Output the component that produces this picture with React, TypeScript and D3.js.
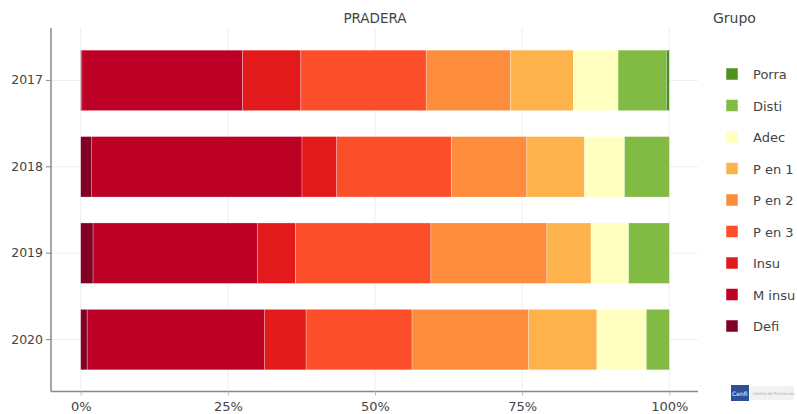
import React, { useEffect, useRef } from 'react';
import * as d3 from 'd3';

const years = ['2017', '2018', '2019', '2020'];
const groups = ['Defi', 'M insu', 'Insu', 'P en 3', 'P en 2', 'P en 1', 'Adec', 'Disti', 'Porra'];
const groupColors = ['#800026', '#bd0026', '#e31a1c', '#fc4e2a', '#fd8d3c', '#feb24c', '#ffffc0', '#81bb44', '#4d9221'];

// percentages per year, in the same order as groups
const values2017 = [0.2, 27.3, 9.9, 21.3, 14.3, 10.7, 7.6, 8.2, 0.5];
const values2018 = [1.8, 35.8, 5.9, 19.5, 12.8, 9.8, 6.8, 7.6, 0];
const values2019 = [2.1, 27.9, 6.5, 23.0, 19.7, 7.5, 6.4, 6.9, 0];
const values2020 = [1.1, 30.1, 7.1, 18.0, 19.8, 11.6, 8.4, 3.9, 0];

const xTicks = [0, 0.25, 0.5, 0.75, 1];
const legendOrder = ['Porra', 'Disti', 'Adec', 'P en 1', 'P en 2', 'P en 3', 'Insu', 'M insu', 'Defi'];

const App = () => {
  const ref = useRef<SVGSVGElement>(null);

  useEffect(() => {
    if (!ref.current) return;
    const svg = d3.select(ref.current);
    svg.selectAll('*').remove();

    const font = '"DejaVu Sans", Verdana, sans-serif';
    const rows = [values2017, values2018, values2019, values2020].map((vals, i) => {
      const row: any = { year: years[i] };
      groups.forEach((g, j) => { row[g] = vals[j] / 100; });
      return row;
    });

    const x = d3.scaleLinear().domain([0, 1]).range([80.7, 669.3]);
    const y = d3.scaleBand().domain(years).range([37.2, 382.8]).paddingInner(0.3).paddingOuter(0.15);
    const color = d3.scaleOrdinal<string, string>().domain(groups).range(groupColors);

    const left = 51, right = 698, top = 28, bottom = 391.5;

    // grid
    svg.append('g').selectAll('line').data(xTicks).enter().append('line')
      .attr('x1', d => x(d)).attr('x2', d => x(d))
      .attr('y1', top).attr('y2', bottom)
      .attr('stroke', '#eee').attr('stroke-width', 1);
    svg.append('g').selectAll('line').data(years).enter().append('line')
      .attr('x1', left).attr('x2', right)
      .attr('y1', d => y(d)! + y.bandwidth() / 2).attr('y2', d => y(d)! + y.bandwidth() / 2)
      .attr('stroke', '#eee').attr('stroke-width', 1);

    // stacked bars
    const series = d3.stack<any>().keys(groups)(rows);
    svg.append('g').selectAll('g').data(series).enter().append('g')
      .attr('fill', d => color(d.key))
      .selectAll('rect').data(d => d).enter().append('rect')
      .attr('x', d => x(d[0]))
      .attr('width', d => Math.max(0, x(d[1]) - x(d[0])))
      .attr('y', d => y(d.data.year)!)
      .attr('height', y.bandwidth())
      .attr('stroke', 'rgba(255,255,255,0.45)')
      .attr('stroke-width', 0.6);

    // axes
    svg.append('line').attr('x1', left).attr('x2', left).attr('y1', top).attr('y2', bottom)
      .attr('stroke', '#888').attr('stroke-width', 1.5);
    svg.append('line').attr('x1', left).attr('x2', right).attr('y1', bottom).attr('y2', bottom)
      .attr('stroke', '#888').attr('stroke-width', 1.5);

    const yAxis = svg.append('g').attr('transform', `translate(${left},0)`)
      .call(d3.axisLeft(y).tickSize(5).tickPadding(3));
    yAxis.select('.domain').remove();
    yAxis.selectAll('line').attr('stroke', '#888');
    yAxis.selectAll('text').attr('fill', '#444').style('font-size', '12.5px').style('font-family', font);

    const xAxis = svg.append('g').attr('transform', `translate(0,${bottom})`)
      .call(d3.axisBottom(x).tickValues(xTicks).tickFormat(d3.format('.0%')).tickSize(4).tickPadding(6));
    xAxis.select('.domain').remove();
    xAxis.selectAll('line').attr('stroke', '#bbb');
    xAxis.selectAll('text').attr('fill', '#444').style('font-size', '13px').style('font-family', font);

    // title
    svg.append('text').attr('x', x(0.5)).attr('y', 23).attr('text-anchor', 'middle')
      .attr('fill', '#444').style('font-size', '13.5px').style('font-family', font)
      .text('PRADERA');

    // legend
    const legend = svg.append('g');
    legend.append('text').attr('x', 713).attr('y', 23)
      .attr('fill', '#444').style('font-size', '14px').style('font-family', font).text('Grupo');
    const items = legend.selectAll('g.item').data(legendOrder).enter().append('g')
      .attr('class', 'item')
      .attr('transform', (d, i) => `translate(726,${74 + i * 31.5})`);
    items.append('rect').attr('x', 0).attr('y', -6).attr('width', 12).attr('height', 12)
      .attr('fill', d => color(d)).attr('stroke', 'rgba(255,255,255,0.5)');
    items.append('text').attr('x', 27).attr('y', 5)
      .attr('fill', '#444').style('font-size', '13px').style('font-family', font)
      .text(d => d);

    // logo
    const logo = svg.append('g').attr('transform', 'translate(731,385)');
    logo.append('rect').attr('width', 18).attr('height', 16).attr('fill', '#2f4f9a');
    logo.append('text').attr('x', 1).attr('y', 11).attr('fill', '#fff')
      .style('font-size', '6px').style('font-family', font).text('Cenfi');
    logo.append('rect').attr('x', 19).attr('y', 1).attr('width', 44).attr('height', 14).attr('fill', '#f2f2f2');
    logo.append('text').attr('x', 22).attr('y', 10).attr('fill', '#aaa')
      .style('font-size', '4px').style('font-family', font).text('Centro de Formación');
  }, []);

  return (
    <svg ref={ref} width={797} height={414}
      style={{ position: 'absolute', left: 0, top: 0, background: '#fff' }} />
  );
};

export default App;
